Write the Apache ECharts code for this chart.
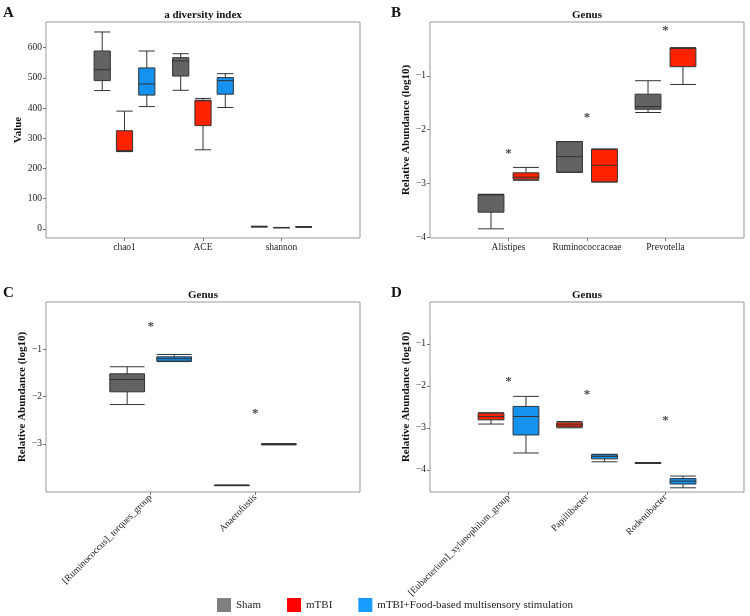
<!DOCTYPE html>
<html>
<head>
<meta charset="utf-8">
<script src="https://cdn.jsdelivr.net/npm/echarts@6/dist/echarts.min.js"></script>
<style>
  html, body { margin: 0; padding: 0; background: #fff; }
  #main { width: 750px; height: 616px; }
</style>
</head>
<body>
<div id="main"></div>
<script>
// 分组
var groups = ['Sham', 'mTBI', 'mTBI+Food-based multisensory stimulation']

// A: alpha 多样性  [min, Q1, median, Q3, max]
var catA = ['chao1', 'ACE', 'shannon']
var shamA = [[458, 491, 527, 589, 652], [459, 506, 556, 567, 580], [6.5, 7, 7.7, 8.3, 8.8]]
var mtbiA = [[256, 257, 259, 325, 390], [262, 342, 424, 426, 432], [3.8, 4.1, 4.4, 4.7, 5]]
var foodA = [[405, 443, 480, 533, 589], [402, 446, 491, 501, 514], [6, 6.3, 6.6, 6.9, 7.2]]
var ticksA = [0, 100, 200, 300, 400, 500, 600]

// B: Genus (log10)
var catB = ['Alistipes', 'Ruminococcaceae', 'Prevotella']
var shamB = [[-3.84, -3.53, -3.21, -3.2, -3.2], [-2.79, -2.79, -2.5, -2.22, -2.22], [-1.68, -1.62, -1.57, -1.34, -1.09]]
var mtbiB = [[-2.94, -2.92, -2.88, -2.8, -2.7], [-2.97, -2.97, -2.66, -2.36, -2.36], [-1.16, -0.83, -0.49, -0.48, -0.48]]
var starB = [-2.42, -1.75, -0.15]
var ticksB = [-4, -3, -2, -1]

// C
var catC = ['[Ruminococcus]_torques_group', 'Anaerofustis']
var shamC = [[-2.17, -1.9, -1.64, -1.52, -1.37], [-3.885, -3.885, -3.88, -3.875, -3.875]]
var foodC = [[-1.26, -1.25, -1.2, -1.16, -1.11], [-3.02, -3.02, -3.01, -3.0, -3.0]]
var starC = [-0.51, -2.34]
var ticksC = [-3, -2, -1]

// D
var catD = ['[Eubacterium]_xylanophilum_group', 'Papillibacter', 'Rodentibacter']
var mtbiD = [[-2.91, -2.81, -2.73, -2.65, -2.64], [-3.0, -2.98, -2.93, -2.88, -2.85], [-3.85, -3.85, -3.84, -3.83, -3.83]]
var foodD = [[-3.6, -3.17, -2.73, -2.49, -2.25], [-3.81, -3.74, -3.68, -3.64, -3.63], [-4.43, -4.34, -4.27, -4.21, -4.15]]
var starD = [-1.87, -2.19, -2.81]
var ticksD = [-4, -3, -2, -1]

var colors = ['#636363', '#ff2200', '#1591ee']
var legendColors = ['#808080', '#ff0000', '#1a9cff']
var serif = 'Liberation Serif'

// 两边各留一个空位
function pad(list, blank) {
  return [blank].concat(list).concat([blank + ' '])
}

function boxSeries(g, gridIndex, values) {
  return {
    name: groups[g],
    type: 'boxplot',
    xAxisIndex: gridIndex,
    yAxisIndex: gridIndex,
    data: pad(values, ['-', '-', '-', '-', '-']).map(function (v) {
      return Array.isArray(v) ? v : ['-', '-', '-', '-', '-']
    }),
    itemStyle: { color: colors[g], borderColor: '#333', borderWidth: 1 },
    emphasis: { disabled: true }
  }
}

function starSeries(gridIndex, values) {
  var pts = []
  for (var i = 0; i < values.length; i++) {
    pts.push([i + 1, values[i]])
  }
  return {
    type: 'scatter',
    xAxisIndex: gridIndex,
    yAxisIndex: gridIndex,
    data: pts,
    symbolSize: 0,
    silent: true,
    label: {
      show: true,
      position: 'inside',
      formatter: '*',
      offset: [0, 1],
      fontFamily: serif,
      fontSize: 13,
      fontWeight: 'bold',
      color: '#111'
    }
  }
}

function xAxis(gridIndex, cats, rotate) {
  return {
    type: 'category',
    gridIndex: gridIndex,
    data: pad(cats, ' '),
    boundaryGap: false,
    axisLine: { show: false, onZero: false },
    axisTick: {
      show: true,
      length: 3,
      lineStyle: { color: '#777' },
      interval: function (i, v) { return v.trim() !== '' }
    },
    axisLabel: {
      interval: 0,
      rotate: rotate,
      margin: 4,
      fontFamily: serif,
      fontSize: 9.5,
      color: '#222'
    },
    splitLine: { show: false }
  }
}

function yAxis(gridIndex, min, max, ticks, name, gap) {
  return {
    type: 'value',
    gridIndex: gridIndex,
    min: min,
    max: max,
    name: name,
    nameLocation: 'middle',
    nameGap: gap,
    nameTextStyle: { fontFamily: serif, fontSize: 11, fontWeight: 'bold', color: '#111' },
    axisLine: { show: false },
    axisTick: { show: true, length: 3, lineStyle: { color: '#777' }, customValues: ticks },
    axisLabel: {
      customValues: ticks,
      margin: 4,
      fontFamily: serif,
      fontSize: 9.5,
      color: '#222',
      formatter: function (v) { return String(v).replace('-', '\u2212') }
    },
    splitLine: { show: false }
  }
}

function panelTitle(text, x, y, size) {
  return {
    text: text,
    left: x,
    top: y,
    padding: 0,
    textAlign: size ? 'left' : 'center',
    textStyle: { fontFamily: serif, fontSize: size || 11, fontWeight: 'bold', color: '#111' }
  }
}

var gridStyle = { show: true, borderColor: '#999', borderWidth: 1, backgroundColor: '#fff' }

var chart = echarts.init(document.getElementById('main'))
var option = {
  animation: false,
  backgroundColor: '#fff',
  title: [
    panelTitle('A', 3, 6, 15),
    panelTitle('B', 391, 6, 15),
    panelTitle('C', 3, 286, 15),
    panelTitle('D', 391, 286, 15),
    panelTitle('a diversity index', 203, 10),
    panelTitle('Genus', 587, 10),
    panelTitle('Genus', 203, 290),
    panelTitle('Genus', 587, 290)
  ],
  legend: {
    left: 217,
    top: 598,
    padding: 0,
    itemWidth: 14,
    itemHeight: 14,
    itemGap: 26,
    icon: 'rect',
    textStyle: { fontFamily: serif, fontSize: 11, color: '#222' },
    data: groups.map(function (g, i) {
      return { name: g, itemStyle: { color: legendColors[i], borderWidth: 0 } }
    })
  },
  grid: [
    Object.assign({ left: 46, top: 22, width: 314, height: 216 }, gridStyle),
    Object.assign({ left: 430, top: 22, width: 314, height: 216 }, gridStyle),
    Object.assign({ left: 46, top: 302, width: 314, height: 190 }, gridStyle),
    Object.assign({ left: 430, top: 302, width: 314, height: 190 }, gridStyle)
  ],
  xAxis: [
    xAxis(0, catA, 0),
    xAxis(1, catB, 0),
    xAxis(2, catC, 45),
    xAxis(3, catD, 45)
  ],
  yAxis: [
    yAxis(0, -30, 685, ticksA, 'Value', 21),
    yAxis(1, -4.01, 0, ticksB, 'Relative Abundance (log10)', 18),
    yAxis(2, -4.02, 0, ticksC, 'Relative Abundance (log10)', 18),
    yAxis(3, -4.53, 0, ticksD, 'Relative Abundance (log10)', 18)
  ],
  series: [
    boxSeries(0, 0, shamA),
    boxSeries(1, 0, mtbiA),
    boxSeries(2, 0, foodA),
    boxSeries(0, 1, shamB),
    boxSeries(1, 1, mtbiB),
    starSeries(1, starB),
    boxSeries(0, 2, shamC),
    boxSeries(2, 2, foodC),
    starSeries(2, starC),
    boxSeries(1, 3, mtbiD),
    boxSeries(2, 3, foodD),
    starSeries(3, starD)
  ]
}
chart.setOption(option)
</script>
</body>
</html>
